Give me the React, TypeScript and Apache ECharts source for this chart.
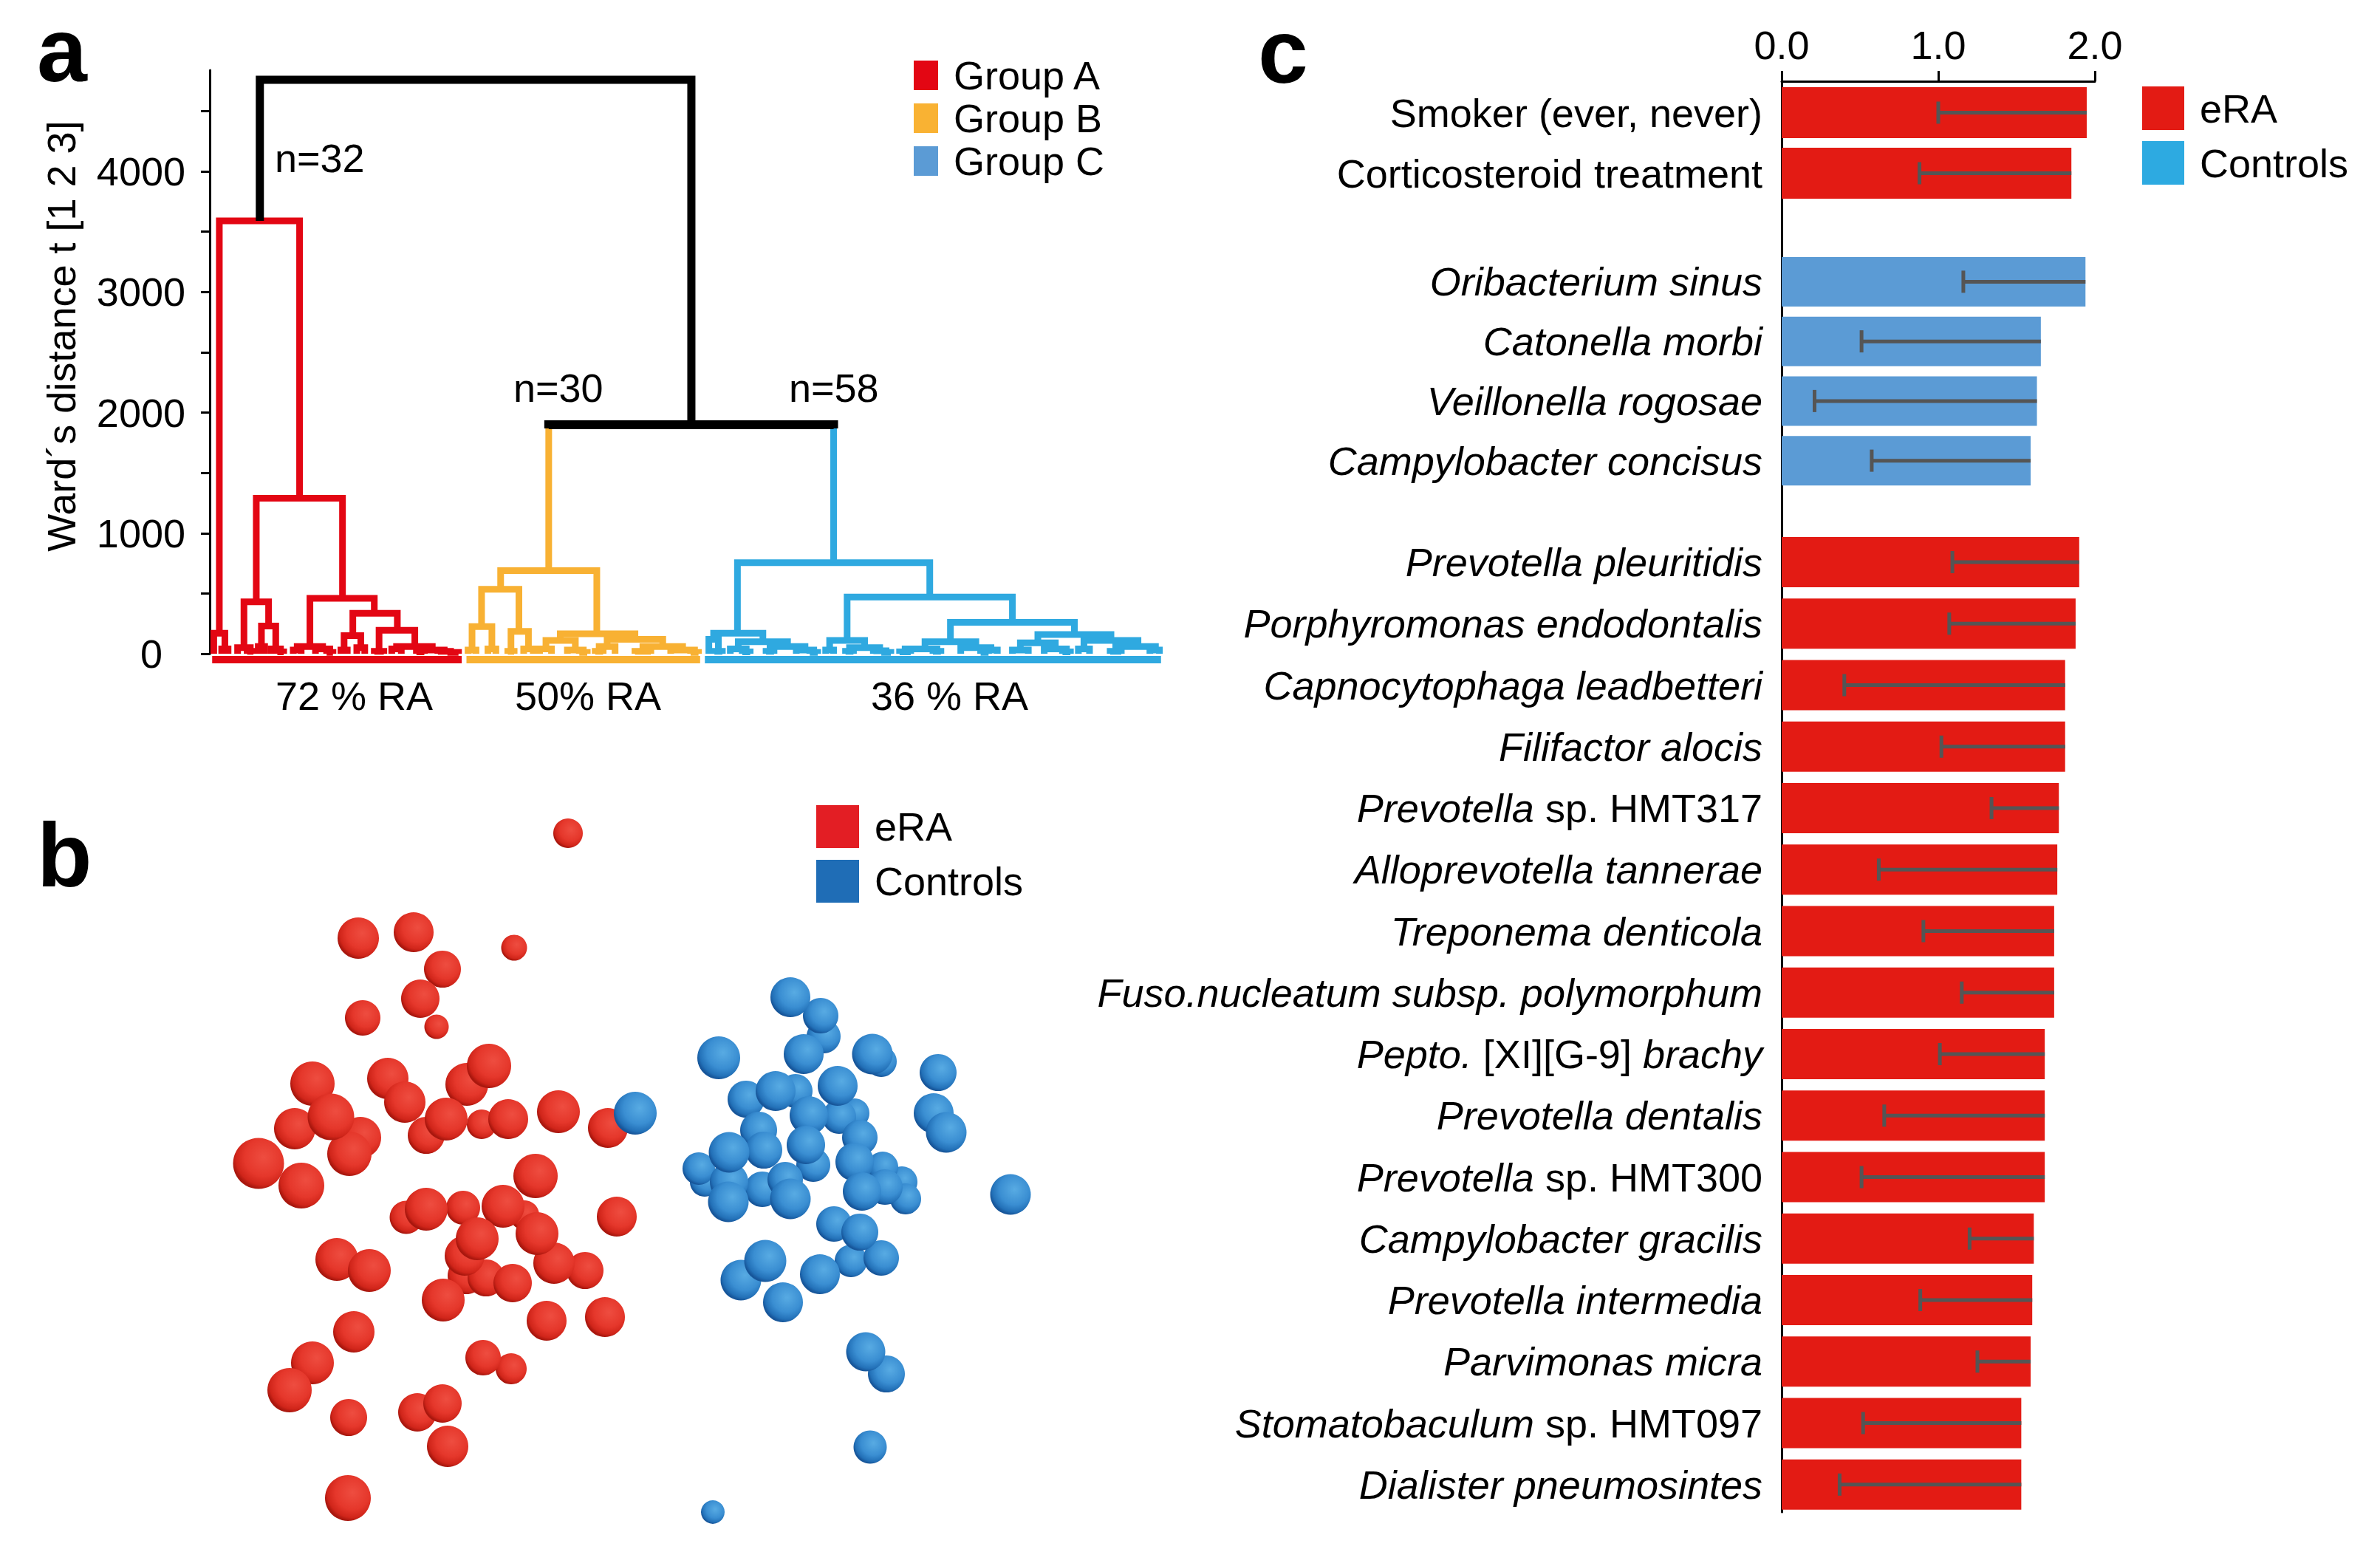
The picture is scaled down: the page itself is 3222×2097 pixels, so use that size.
import React, { useEffect, useRef } from "react";
import * as echarts from "echarts";

const FONT = '"Liberation Sans", Arial, Helvetica, sans-serif';

// ---------- panel a : dendrogram ----------
const groupNames = ["Group A", "Group B", "Group C"];
const groupSizes = [32, 30, 58];
const groupRA = ["72 % RA", "50% RA", "36 % RA"];
const wardTicks = [0, 500, 1000, 1500, 2000, 2500, 3000, 3500, 4000, 4500];
const wardLabels = [0, 1000, 2000, 3000, 4000];

// [left leaf pos, right leaf pos, merge height, left child height, right child height]
const linksA = [
  [0.7, 10.8, 3590, 170, 1290],
  [0, 1.4, 170, 0, 40],
  [1, 1.8, 40, 0, 0],
  [5.35, 16.2, 1290, 430, 460],
  [3.8, 6.9, 430, 50, 230],
  [3, 4.6, 50, 0, 20],
  [4.2, 5, 20, 0, 0],
  [6.0, 7.8, 230, 60, 40],
  [5.6, 6.4, 60, 0, 0],
  [7.2, 8.4, 40, 0, 15],
  [8, 8.8, 15, 0, 0],
  [12.1, 20.2, 460, 60, 335],
  [10.5, 13.7, 60, 30, 40],
  [10, 11, 30, 0, 0],
  [12.8, 14.6, 40, 0, 10],
  [14.2, 15, 10, 0, 0],
  [17.5, 23.1, 335, 150, 195],
  [16.4, 18.5, 150, 30, 50],
  [16, 16.8, 30, 0, 0],
  [18, 19, 50, 0, 0],
  [20.8, 25.3, 195, 20, 60],
  [20.2, 21.4, 20, 0, 0],
  [23, 27.5, 60, 40, 30],
  [22.4, 23.6, 40, 0, 0],
  [26, 29, 30, 15, 20],
  [25.5, 26.5, 15, 0, 0],
  [28.2, 29.8, 20, 0, 10],
  [29.4, 30.8, 10, 0, 0],
];
const linksB = [
  [36.1, 48.2, 690, 535, 165],
  [33.7, 38.4, 535, 225, 185],
  [32.5, 35, 225, 30, 40],
  [32, 33, 30, 0, 0],
  [34.5, 35.5, 40, 0, 0],
  [37.4, 39.6, 185, 20, 40],
  [37, 37.8, 20, 0, 0],
  [39, 40.2, 40, 0, 0],
  [43.6, 53, 165, 110, 120],
  [41.8, 45.5, 110, 40, 30],
  [41, 42.5, 40, 0, 0],
  [44.5, 46.5, 30, 0, 10],
  [46, 47, 10, 0, 0],
  [49.5, 56.5, 120, 60, 60],
  [48.5, 50.5, 60, 20, 0],
  [48, 49, 20, 0, 0],
  [54, 59, 60, 20, 30],
  [53, 55, 20, 0, 0],
  [57.5, 60.5, 30, 0, 10],
  [60, 61, 10, 0, 0],
];
const linksC = [
  [65.9, 90.1, 755, 170, 470],
  [62.9, 69.1, 170, 120, 100],
  [62.3, 63.5, 120, 0, 20],
  [63, 64, 20, 0, 0],
  [66, 72.2, 100, 40, 60],
  [65, 67, 40, 0, 15],
  [66.5, 67.5, 15, 0, 0],
  [70, 74.4, 60, 20, 30],
  [69.5, 70.5, 20, 0, 0],
  [73.3, 75.5, 30, 0, 10],
  [75, 76, 10, 0, 0],
  [79.7, 100.5, 470, 110, 260],
  [77.5, 81.9, 110, 30, 50],
  [77, 78, 30, 0, 0],
  [80, 83.8, 50, 20, 25],
  [79.5, 80.5, 20, 0, 0],
  [83, 84.6, 25, 0, 10],
  [84, 85.2, 10, 0, 0],
  [92.7, 108.3, 260, 100, 160],
  [89.5, 95.9, 100, 40, 50],
  [87, 91, 40, 15, 20],
  [86.3, 87.7, 15, 0, 0],
  [90.5, 91.5, 20, 0, 0],
  [94, 97.8, 50, 0, 30],
  [97, 98.6, 30, 10, 0],
  [96.5, 97.5, 10, 0, 0],
  [103.7, 112.9, 160, 90, 110],
  [101.5, 105.9, 90, 30, 40],
  [100.5, 102.5, 30, 0, 0],
  [104.5, 107.3, 40, 0, 15],
  [106.8, 107.8, 15, 0, 0],
  [109.5, 116.3, 110, 40, 60],
  [108.8, 110.2, 40, 0, 0],
  [113.5, 118.5, 60, 20, 30],
  [112.8, 114.2, 20, 0, 0],
  [117.8, 119.0, 30, 0, 0],
];
const linksTop = [[5.8, 60.1, 4760, 3590, 1900]];
// [left, right, height, left child h, right child h, left group, right group]
const linksJoin = [[42.15, 78.0, 1900, 690, 755, 1, 2]];

// ---------- panel b : ordination scatter [x, y, size] ----------
const scatterERA = [
  [46.9, 95.2, 40], [18.5, 81.0, 56], [26.0, 81.8, 54], [39.6, 79.7, 35], [29.9, 76.8, 50],
  [26.9, 72.8, 52], [19.1, 70.2, 48], [29.1, 69.0, 33], [36.2, 63.7, 60], [12.3, 61.3, 60],
  [22.5, 62.0, 56], [33.2, 61.2, 58], [24.8, 58.8, 56], [14.8, 56.8, 63], [9.9, 55.2, 56],
  [30.4, 56.5, 58], [35.2, 55.8, 40], [38.8, 56.5, 54], [45.6, 57.5, 58], [52.3, 55.3, 54],
  [27.7, 54.3, 50], [18.8, 54.0, 56], [17.3, 51.8, 60], [5.0, 50.5, 69], [10.8, 47.5, 62],
  [42.5, 48.8, 60], [25.0, 43.2, 45], [27.7, 44.3, 58], [32.7, 44.5, 46], [38.1, 44.7, 58],
  [41.0, 43.5, 40], [34.6, 40.3, 58], [32.9, 38.0, 54], [42.7, 41.0, 58], [45.0, 37.0, 56],
  [49.2, 36.0, 50], [53.5, 43.3, 54], [15.6, 37.5, 58], [20.0, 36.0, 58], [33.1, 35.3, 50],
  [35.8, 35.0, 50], [39.4, 34.3, 52], [30.0, 32.0, 58], [44.0, 29.2, 54], [51.9, 29.7, 54],
  [17.9, 27.7, 56], [35.4, 24.2, 48], [39.2, 22.7, 42], [12.3, 23.5, 58], [9.2, 19.8, 60],
  [26.5, 16.8, 52], [29.9, 18.0, 52], [17.2, 16.1, 50], [30.6, 12.2, 56], [17.1, 5.2, 62],
];
const scatterControls = [
  [56.0, 57.3, 58], [77.0, 73.0, 54], [81.1, 70.5, 48], [81.5, 67.7, 46], [78.8, 65.3, 54],
  [67.3, 64.8, 58], [88.1, 65.3, 55], [89.3, 64.3, 42], [97.0, 62.8, 50], [71.0, 59.2, 50],
  [75.0, 60.3, 54], [77.7, 60.3, 46], [83.4, 61.0, 54], [79.5, 57.0, 52], [83.6, 56.8, 46],
  [85.7, 57.3, 40], [96.4, 57.3, 54], [98.1, 54.7, 55], [72.7, 55.0, 50], [68.7, 52.0, 55],
  [73.4, 52.3, 50], [79.1, 53.0, 52], [86.4, 54.0, 48], [85.7, 50.7, 52], [64.6, 49.8, 44],
  [65.4, 48.0, 40], [68.7, 48.0, 52], [68.6, 45.3, 55], [73.2, 47.0, 48], [76.3, 48.3, 48],
  [77.0, 45.7, 55], [80.1, 50.3, 46], [86.7, 46.7, 52], [89.8, 47.3, 48], [92.1, 48.0, 42],
  [92.6, 45.7, 42], [89.5, 50.0, 42], [106.8, 46.3, 55], [82.9, 42.3, 48], [86.4, 41.2, 50],
  [73.6, 37.3, 57], [70.3, 34.7, 55], [76.0, 31.7, 54], [81.0, 35.5, 54], [85.2, 37.3, 44],
  [89.3, 37.7, 48], [87.2, 25.0, 53], [90.0, 22.0, 50], [87.8, 12.1, 45], [66.5, 3.3, 32],
];

// ---------- panel c : bars with error bars ----------
const cLabels1 = ["Smoker (ever, never)", "Corticosteroid treatment"];
const cValues1 = [1.948, 1.85];
const cLows1 = [1.0, 0.88];
const cLabels2 = ["Oribacterium sinus", "Catonella morbi", "Veillonella rogosae", "Campylobacter concisus"];
const cValues2 = [1.94, 1.655, 1.63, 1.59];
const cLows2 = [1.16, 0.51, 0.21, 0.575];
const cLabels3 = [
  "Prevotella pleuritidis", "Porphyromonas endodontalis", "Capnocytophaga leadbetteri", "Filifactor alocis",
  "Prevotella sp. HMT317", "Alloprevotella tannerae", "Treponema denticola", "Fuso.nucleatum subsp. polymorphum",
  "Pepto. [XI][G-9] brachy", "Prevotella dentalis", "Prevotella sp. HMT300", "Campylobacter gracilis",
  "Prevotella intermedia", "Parvimonas micra", "Stomatobaculum sp. HMT097", "Dialister pneumosintes",
];
const cValues3 = [1.9, 1.877, 1.81, 1.81, 1.77, 1.76, 1.74, 1.74, 1.68, 1.68, 1.68, 1.61, 1.6, 1.59, 1.53, 1.53];
const cLows3 = [1.09, 1.07, 0.4, 1.02, 1.34, 0.62, 0.905, 1.15, 1.01, 0.655, 0.51, 1.2, 0.885, 1.25, 0.52, 0.37];
const cTicks = [0, 1, 2];

const RED_D = "#E30613";
const YEL_D = "#F8B133";
const BLU_D = "#2FA9E0";
const groupColors = [RED_D, YEL_D, BLU_D];

function linkSeries(name: string, data: number[][], color: string, width: number) {
  return {
    type: "custom",
    name,
    xAxisIndex: 0,
    yAxisIndex: 0,
    clip: false,
    silent: true,
    data,
    encode: { x: [0, 1], y: [2, 3, 4] },
    itemStyle: { color },
    renderItem: (_p: any, api: any) => {
      const xl = api.value(0), xr = api.value(1), h = api.value(2), hl = api.value(3), hr = api.value(4);
      return {
        type: "polyline",
        shape: { points: [api.coord([xl, hl]), api.coord([xl, h]), api.coord([xr, h]), api.coord([xr, hr])] },
        style: { stroke: color, lineWidth: width, fill: "none", lineJoin: "miter" },
      };
    },
  };
}

function fmtSpecies(s: string, plain: boolean) {
  if (plain) return `{n|${s}}`;
  if (s.startsWith("Pepto.")) return `{i|Pepto. }{n|[XI][G-9] }{i|brachy}`;
  const k = s.indexOf(" sp. ");
  if (k > 0) return `{i|${s.slice(0, k)} }{n|${s.slice(k + 1)}}`;
  return `{i|${s}}`;
}

const labelRich = {
  n: { fontSize: 54, fontFamily: FONT, color: "#000" },
  i: { fontSize: 54, fontFamily: FONT, color: "#000", fontStyle: "italic" },
};

function catAxis(grid: number, data: string[], plain: boolean) {
  return {
    gridIndex: grid,
    type: "category",
    data,
    inverse: true,
    axisLine: { show: false },
    axisTick: { show: false },
    splitLine: { show: false },
    axisLabel: { margin: 26, formatter: (v: string) => fmtSpecies(v, plain), rich: labelRich },
  };
}

function errSeries(ax: number, lows: number[], vals: number[]) {
  return {
    type: "custom",
    xAxisIndex: ax,
    yAxisIndex: ax,
    silent: true,
    data: lows.map((lo, i) => [lo, vals[i], i]),
    encode: { x: [0, 1], y: 2 },
    z: 5,
    renderItem: (_p: any, api: any) => {
      const a = api.coord([api.value(0), api.value(2)]);
      const b = api.coord([api.value(1), api.value(2)]);
      const st = { stroke: "#555555", lineWidth: 5 };
      return {
        type: "group",
        children: [
          { type: "line", shape: { x1: a[0], y1: a[1], x2: b[0], y2: b[1] }, style: st },
          { type: "line", shape: { x1: a[0], y1: a[1] - 15, x2: a[0], y2: a[1] + 15 }, style: st },
        ],
      };
    },
  };
}

const redSphere = {
  type: "radial", x: 0.6, y: 0.38, r: 0.62,
  colorStops: [
    { offset: 0, color: "#EE4D40" }, { offset: 0.6, color: "#E5372B" },
    { offset: 0.88, color: "#D0251A" }, { offset: 1, color: "#A9170E" },
  ],
};
const blueSphere = {
  type: "radial", x: 0.6, y: 0.38, r: 0.62,
  colorStops: [
    { offset: 0, color: "#58ABE3" }, { offset: 0.6, color: "#3A8ED2" },
    { offset: 0.88, color: "#2371B8" }, { offset: 1, color: "#17569A" },
  ],
};

function txt(text: string, x: number, y: number, extra: any = {}) {
  return {
    type: "text",
    x,
    y,
    silent: true,
    rotation: extra.rotation || 0,
    style: {
      text,
      fontSize: extra.fontSize || 54,
      fontFamily: FONT,
      fontWeight: extra.fontWeight || "normal",
      fill: "#000",
      align: extra.align || "left",
      textAlign: extra.align || "left",
      verticalAlign: "middle",
      textVerticalAlign: "middle",
    },
  };
}

function legendCfg(left: number, top: number, w: number, h: number, gap: number, data: any[]) {
  return {
    left, top, orient: "vertical", icon: "rect", itemWidth: w, itemHeight: h, itemGap: gap,
    padding: 0, selectedMode: false,
    textStyle: { fontSize: 54, fontFamily: FONT, color: "#000", padding: [0, 0, 0, 16] },
    data,
  };
}

export default function App() {
  const ref = useRef<HTMLDivElement>(null);
  useEffect(() => {
    if (!ref.current) return;
    const chart = echarts.init(ref.current, null, { renderer: "svg" });
    const starts = groupSizes.map((_, i) => groupSizes.slice(0, i).reduce((a, b) => a + b, 0));
    const leafData = groupSizes.map((n, i) => [starts[i], starts[i] + n - 1, i]);
    const bySize = (a: number[], b: number[]) => a[2] - b[2];

    const option: any = {
      animation: false,
      backgroundColor: "#fff",
      textStyle: { fontFamily: FONT },
      grid: [
        { left: 284, top: 95, width: 1291, height: 790 },
        { left: 300, top: 1100, width: 1120, height: 980 },
        { left: 2412, top: 110, width: 424, height: 1937 },
        { left: 2412, top: 111.5, width: 424, height: 164 },
        { left: 2412, top: 341, width: 424, height: 323 },
        { left: 2412, top: 719.4, width: 424, height: 1332 },
      ],
      xAxis: [
        { gridIndex: 0, type: "value", min: -0.5, max: 119.5, show: false },
        { gridIndex: 1, type: "value", min: 0, max: 112, show: false },
        {
          gridIndex: 2, type: "value", min: 0, max: 2, interval: 1, position: "top",
          axisLine: { show: true, onZero: false, lineStyle: { color: "#000", width: 3 } },
          axisTick: { show: true, length: 14, lineStyle: { color: "#000", width: 3 }, customValues: cTicks },
          axisLabel: {
            margin: 22, fontSize: 54, fontFamily: FONT, color: "#000", customValues: cTicks,
            formatter: (v: number) => v.toFixed(1),
          },
          splitLine: { show: false },
        },
        { gridIndex: 3, type: "value", min: 0, max: 2, show: false },
        { gridIndex: 4, type: "value", min: 0, max: 2, show: false },
        { gridIndex: 5, type: "value", min: 0, max: 2, show: false },
      ],
      yAxis: [
        {
          gridIndex: 0, type: "value", min: 0, max: 4840,
          axisLine: { show: true, onZero: false, lineStyle: { color: "#000", width: 3 } },
          axisTick: { show: true, length: 12, lineStyle: { color: "#000", width: 3 }, customValues: wardTicks },
          axisLabel: {
            margin: 33, fontSize: 54, fontFamily: FONT, color: "#000", customValues: wardLabels,
            formatter: (v: number) => (v === 0 ? "{z|0}" : String(v)),
            rich: { z: { fontSize: 54, fontFamily: FONT, color: "#000", padding: [0, 31, 0, 0] } },
          },
          splitLine: { show: false },
        },
        { gridIndex: 1, type: "value", min: 0, max: 98, show: false },
        {
          gridIndex: 2, type: "value", min: 0, max: 1,
          axisLine: { show: true, onZero: false, lineStyle: { color: "#000", width: 3 } },
          axisTick: { show: false }, axisLabel: { show: false }, splitLine: { show: false },
        },
        catAxis(3, cLabels1, true),
        catAxis(4, cLabels2, false),
        catAxis(5, cLabels3, false),
      ],
      legend: [
        legendCfg(1237, 75, 33, 40, 4, [
          { name: groupNames[0], itemStyle: { color: "#E30613" } },
          { name: groupNames[1], itemStyle: { color: "#F9B233" } },
          { name: groupNames[2], itemStyle: { color: "#5B9BD5" } },
        ]),
        legendCfg(1105, 1090, 58, 58, 16, [
          { name: "eRA", itemStyle: { color: "#E31E24" } },
          { name: "Controls", itemStyle: { color: "#1F6DB6" } },
        ]),
        legendCfg(2900, 117, 57, 59, 15, [
          { name: "eRA", itemStyle: { color: "#E31B14" } },
          { name: "Controls", itemStyle: { color: "#2DAAE1" } },
        ]),
      ],
      series: [
        linkSeries(groupNames[0], linksA, RED_D, 9),
        linkSeries(groupNames[1], linksB, YEL_D, 9),
        linkSeries(groupNames[2], linksC, BLU_D, 9),
        linkSeries("merge", linksTop, "#000", 11),
        {
          type: "custom", name: "join", xAxisIndex: 0, yAxisIndex: 0, clip: false, silent: true,
          data: linksJoin, encode: { x: [0, 1], y: [2, 3, 4] },
          renderItem: (_p: any, api: any) => {
            const xl = api.value(0), xr = api.value(1), h = api.value(2), hl = api.value(3), hr = api.value(4);
            const gl = api.value(5), gr = api.value(6);
            const a = api.coord([xl, hl]), b = api.coord([xl, h]), c = api.coord([xr, h]), d = api.coord([xr, hr]);
            return {
              type: "group",
              children: [
                { type: "line", shape: { x1: a[0], y1: a[1], x2: b[0], y2: b[1] }, style: { stroke: groupColors[gl], lineWidth: 9 } },
                { type: "line", shape: { x1: d[0], y1: d[1], x2: c[0], y2: c[1] }, style: { stroke: groupColors[gr], lineWidth: 9 } },
                { type: "polyline", shape: { points: [[b[0], b[1] + 5], b, c, [c[0], c[1] + 5]] }, style: { stroke: "#000", lineWidth: 12, fill: "none" } },
              ],
            };
          },
        },
        {
          type: "custom", name: "leaves", xAxisIndex: 0, yAxisIndex: 0, clip: false, silent: true,
          data: leafData, encode: { x: [0, 1] },
          renderItem: (_p: any, api: any) => {
            const p = api.coord([api.value(0) - 0.5 + 0.3, 0]);
            const q = api.coord([api.value(1) + 0.5 - 0.3, 0]);
            return { type: "rect", shape: { x: p[0], y: p[1] + 3, width: q[0] - p[0], height: 10 }, style: { fill: groupColors[api.value(2)] } };
          },
        },
        {
          type: "scatter", name: "eRA", xAxisIndex: 1, yAxisIndex: 1, silent: true,
          data: [...scatterERA].sort(bySize), symbol: "circle",
          symbolSize: (d: number[]) => d[2], itemStyle: { color: redSphere, opacity: 1 },
        },
        {
          type: "scatter", name: "Controls", xAxisIndex: 1, yAxisIndex: 1, silent: true,
          data: [...scatterControls].sort(bySize), symbol: "circle",
          symbolSize: (d: number[]) => d[2], itemStyle: { color: blueSphere, opacity: 1 },
        },
        { type: "bar", name: "eRA", xAxisIndex: 3, yAxisIndex: 3, data: cValues1, barWidth: 69, itemStyle: { color: "#E31B14" }, silent: true },
        { type: "bar", name: "Controls", xAxisIndex: 4, yAxisIndex: 4, data: cValues2, barWidth: 67, itemStyle: { color: "#5B9BD5" }, silent: true },
        { type: "bar", name: "eRA", xAxisIndex: 5, yAxisIndex: 5, data: cValues3, barWidth: 68, itemStyle: { color: "#E31B14" }, silent: true },
        errSeries(3, cLows1, cValues1),
        errSeries(4, cLows2, cValues2),
        errSeries(5, cLows3, cValues3),
      ],
      graphic: [
        txt("a", 50, 68, { fontSize: 122, fontWeight: "bold" }),
        txt("b", 50, 1158, { fontSize: 122, fontWeight: "bold" }),
        txt("c", 1703, 70, { fontSize: 122, fontWeight: "bold" }),
        txt(`n=${groupSizes[0]}`, 372, 214),
        txt(`n=${groupSizes[1]}`, 695, 525),
        txt(`n=${groupSizes[2]}`, 1068, 525),
        txt(groupRA[0], 373, 942),
        txt(groupRA[1], 697, 942),
        txt(groupRA[2], 1179, 942),
        txt("Ward´s distance t [1 2 3]", 83, 455, { align: "center", rotation: Math.PI / 2 }),
      ],
    };
    chart.setOption(option);
    return () => chart.dispose();
  }, []);
  return <div ref={ref} style={{ position: "fixed", left: 0, top: 0, width: 3222, height: 2097, background: "#fff" }} />;
}
